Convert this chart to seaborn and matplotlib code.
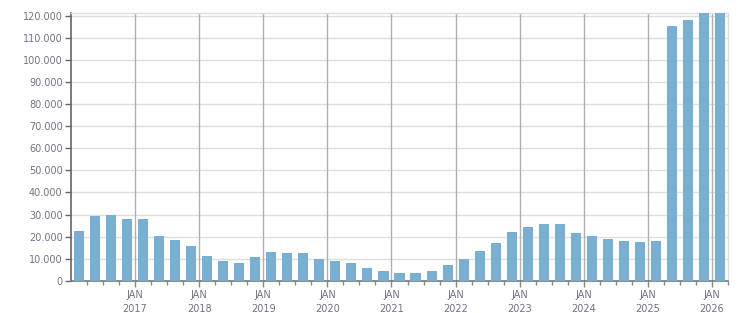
import matplotlib
matplotlib.use("Agg")
import matplotlib.pyplot as plt
import seaborn as sns
import pandas as pd
from matplotlib.ticker import FuncFormatter, FixedLocator

# Quarterly data Q1 2016 .. Q1 2026
quarters = [f"{y}Q{q}" for y in range(2016, 2027) for q in range(1, 5)][:41]
values = [22600, 29400, 29800, 28000, 28000, 20300, 18500, 15800,
          11000, 9000, 8100, 10800, 13100, 12600, 12600, 9900,
          9000, 8100, 5900, 4500, 3600, 3600, 4500, 7200,
          9900, 13600, 17200, 22100, 24300, 25600, 25600, 21500,
          20200, 18800, 17900, 17500, 17900, 115500, 118200, 125000, 125000]
years = list(range(2017, 2027))
year_labels = [f"JAN\n{y}" for y in years]
y_ticks = list(range(0, 120001, 10000))

df = pd.DataFrame({"quarter": quarters, "value": values})

sns.set_theme(style="white")
plt.rcParams['font.family'] = ['DejaVu Sans']

fig = plt.figure(figsize=(7.51, 3.13), dpi=100)
ax = fig.add_axes([71/751, 1 - 280.7/313, (728 - 71)/751, (280.7 - 13.3)/313])

sns.barplot(data=df, x="quarter", y="value", color="#78b0d3", saturation=1,
            width=0.63, ax=ax, zorder=3, linewidth=0, edgecolor="none")

ax.set_xlim(-0.5, len(quarters) - 0.5)
ax.set_ylim(0, 121200)

txt = "#786f86"
# y axis
ax.set_yticks(y_ticks)
ax.yaxis.set_major_formatter(FuncFormatter(lambda v, p: f"{int(v):,}".replace(",", ".")))
ax.tick_params(axis="y", which="major", length=4, width=1, color="#666666",
               labelsize=7, labelcolor=txt, pad=2, left=True)
ax.grid(axis="y", color="#dedede", linewidth=1, zorder=0)

# x axis
major_pos = [3.5 + 4 * (y - 2017) for y in years]
ax.xaxis.set_major_locator(FixedLocator(major_pos))
ax.set_xticklabels(year_labels)
ax.xaxis.set_minor_locator(FixedLocator([i + 0.5 for i in range(len(quarters))]))
ax.tick_params(axis="x", which="major", length=4, width=1, color="#888888",
               labelsize=7, labelcolor=txt, pad=3, bottom=True)
ax.tick_params(axis="x", which="minor", length=3, width=1, color="#888888", bottom=True)
for p in major_pos:
    ax.axvline(p, color="#b0b0b0", linewidth=1, zorder=1)

ax.set_xlabel("")
ax.set_ylabel("")
for s in ["top", "right"]:
    ax.spines[s].set_color("#dedede")
    ax.spines[s].set_linewidth(1)
ax.spines["left"].set_color("#666666")
ax.spines["bottom"].set_color("#777777")
ax.spines["left"].set_linewidth(1.2)
ax.spines["bottom"].set_linewidth(1.2)
for l in ax.get_xticklabels():
    l.set_linespacing(1.45)

fig.savefig("out.png", dpi=100)
